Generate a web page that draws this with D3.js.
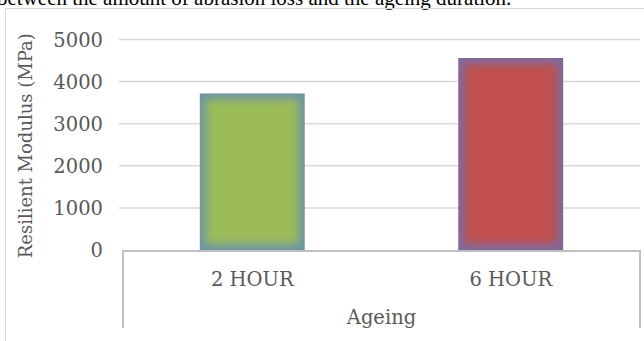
<!DOCTYPE html>
<html>
<head>
<meta charset="utf-8">
<script src="https://cdn.jsdelivr.net/npm/d3@7"></script>
<style>
  html, body { margin: 0; padding: 0; background: #fff; }
  svg { display: block; }
</style>
</head>
<body>
<svg id="chart" width="644" height="341"></svg>
<script>
// Resilient modulus by ageing duration
const categories = ["2 HOUR", "6 HOUR"];
const modulus = [3720, 4560];
const yTicks = [0, 1000, 2000, 3000, 4000, 5000];
const barFills = ["#9BBB59", "#C0504D"];
const barEdges = ["#6F96A3", "#7E6A9E"];
const groupLabel = "Ageing";
const yLabel = "Resilient Modulus (MPa)";
const captionTail = "between the amount of abrasion loss and the ageing duration.";

const W = 644, H = 341;
const plot = { left: 123, right: 640, top: 39.5, bottom: 250 };
const font = "'DejaVu Serif', serif";
const textColor = "#595959";

const svg = d3.select("#chart");
const defs = svg.append("defs");

// soft inner glow used on the bars
const blur = defs.append("filter").attr("id", "soft")
  .attr("x", "-20%").attr("y", "-20%").attr("width", "140%").attr("height", "140%");
blur.append("feGaussianBlur").attr("stdDeviation", 4.5);

// running text of the page above the chart
svg.append("text")
  .attr("x", -3).attr("y", 5)
  .attr("font-family", "'Liberation Serif', serif")
  .attr("font-size", 21)
  .attr("fill", "#000")
  .text(captionTail);

// chart frame
svg.append("rect")
  .attr("x", 5.5).attr("y", 8.5)
  .attr("width", W + 20).attr("height", H + 20)
  .attr("fill", "none").attr("stroke", "#d9d9d9").attr("stroke-width", 1);

const y = d3.scaleLinear().domain([0, 5000]).range([plot.bottom, plot.top]);
const x = d3.scaleBand().domain(categories)
  .range([plot.left, plot.right])
  .paddingInner(0.594).paddingOuter(0.297);

// horizontal gridlines
svg.append("g").selectAll("line")
  .data(yTicks.filter(d => d > 0))
  .join("line")
  .attr("x1", 119).attr("x2", plot.right)
  .attr("y1", d => y(d)).attr("y2", d => y(d))
  .attr("stroke", "#d9d9d9").attr("stroke-width", 1.5);

// y tick labels
const yAxis = d3.axisLeft(y).tickValues(yTicks).tickSize(0).tickPadding(0)
  .tickFormat(d3.format("d"));
const yg = svg.append("g").attr("transform", "translate(103,0)").call(yAxis);
yg.select(".domain").remove();
yg.selectAll("text")
  .attr("font-family", font).attr("font-size", 19.5)
  .attr("fill", textColor).attr("dy", "0.35em");

// y axis title
svg.append("text")
  .attr("transform", `translate(32,${(plot.top + plot.bottom) / 2 + 1}) rotate(-90)`)
  .attr("text-anchor", "middle")
  .attr("font-family", font).attr("font-size", 18)
  .attr("fill", textColor)
  .text(yLabel);

// bars with soft edges
const bars = svg.append("g").selectAll("g")
  .data(categories.map((c, i) => ({ c, v: modulus[i], i })))
  .join("g");

bars.each(function (d) {
  const g = d3.select(this);
  const bx = x(d.c), bw = x.bandwidth(), by = y(d.v), bh = y(0) - y(d.v);
  const clipId = "clip" + d.i;
  defs.append("clipPath").attr("id", clipId)
    .append("rect").attr("x", bx).attr("y", by).attr("width", bw).attr("height", bh);
  const inner = g.append("g").attr("clip-path", `url(#${clipId})`);
  inner.append("rect")
    .attr("x", bx).attr("y", by).attr("width", bw).attr("height", bh)
    .attr("fill", barEdges[d.i]);
  inner.append("rect")
    .attr("x", bx + 6).attr("y", by + 6).attr("width", bw - 12).attr("height", bh - 12)
    .attr("fill", barFills[d.i]).attr("filter", "url(#soft)");
  g.append("rect")
    .attr("x", bx + 0.5).attr("y", by + 0.5).attr("width", bw - 1).attr("height", bh - 1)
    .attr("fill", "none").attr("stroke", barEdges[d.i]).attr("stroke-opacity", 0.6)
    .attr("stroke-width", 1);
});

// category axis: baseline and end separators
const axisColor = "#bfbfbf";
svg.append("line")
  .attr("x1", plot.left - 1).attr("x2", plot.right + 1)
  .attr("y1", plot.bottom + 1).attr("y2", plot.bottom + 1)
  .attr("stroke", axisColor).attr("stroke-width", 2);
svg.append("g").selectAll("line")
  .data([plot.left, plot.right])
  .join("line")
  .attr("x1", d => d).attr("x2", d => d)
  .attr("y1", plot.bottom).attr("y2", 328)
  .attr("stroke", axisColor).attr("stroke-width", 2);

// category labels
svg.append("g").selectAll("text")
  .data(categories)
  .join("text")
  .attr("x", d => x(d) + x.bandwidth() / 2)
  .attr("y", 285.5)
  .attr("text-anchor", "middle")
  .attr("font-family", font).attr("font-size", 19.5)
  .attr("fill", textColor)
  .text(d => d);

// group label
svg.append("text")
  .attr("x", (plot.left + plot.right) / 2)
  .attr("y", 324)
  .attr("text-anchor", "middle")
  .attr("font-family", font).attr("font-size", 19.5)
  .attr("fill", textColor)
  .text(groupLabel);
</script>
</body>
</html>
